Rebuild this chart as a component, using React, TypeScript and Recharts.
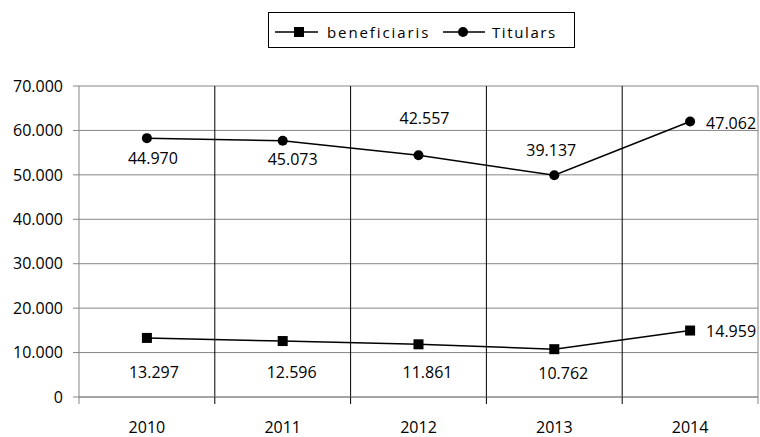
import React from 'react';
import { ComposedChart, Area, XAxis, YAxis, CartesianGrid, Legend, LabelList } from 'recharts';

const years = ['2010', '2011', '2012', '2013', '2014'];
const beneficiaris = [13297, 12596, 11861, 10762, 14959];
const titulars = [44970, 45073, 42557, 39137, 47062];
const yTicks = [0, 10000, 20000, 30000, 40000, 50000, 60000, 70000];

// label offsets relative to each point (style, not data)
const benefLabelOffsets: [number, number, string][] = [
  [7, 34, 'middle'], [9, 31, 'middle'], [9, 28, 'middle'], [9, 24, 'middle'], [16, 0, 'start'],
];
const titLabelOffsets: [number, number, string][] = [
  [6, 20, 'middle'], [10, 18, 'middle'], [6, -37, 'middle'], [-3, -25, 'middle'], [16, 2, 'start'],
];

const data = years.map((y, i) => ({ year: y, beneficiaris: beneficiaris[i], titulars: titulars[i] }));

const FONT = '"Open Sans", sans-serif';
const GRAY = '#868686';

const fmt = (v: number) => {
  if (v === 0) return '0';
  const th = Math.floor(v / 1000);
  const r = v % 1000;
  return th > 0 ? `${th}.${String(r).padStart(3, '0')}` : String(r);
};

const SquareDot = (p: any) => {
  if (p.cx == null || p.cy == null) return null;
  return <rect key={`s${p.index}`} x={p.cx - 5} y={p.cy - 5} width={10} height={10} fill="#000" />;
};
const CircleDot = (p: any) => {
  if (p.cx == null || p.cy == null) return null;
  return <circle key={`c${p.index}`} cx={p.cx} cy={p.cy} r={5} fill="#000" />;
};

const makeLabel = (values: number[], offs: [number, number, string][]) => (p: any) => {
  const i = p.index;
  const [dx, dy, anchor] = offs[i];
  return (
    <text
      key={`l${i}`}
      x={p.x + dx}
      y={p.y + dy}
      textAnchor={anchor as any}
      dominantBaseline="central"
      fontFamily={FONT}
      fontSize={16}
      fill="#000"
    >
      {fmt(values[i])}
    </text>
  );
};

const XTick = (p: any) => {
  const { x, y, payload, index, width, visibleTicksCount } = p;
  const half = width && visibleTicksCount ? width / (2 * visibleTicksCount) : 0;
  return (
    <g>
      {half > 0 && index === 0 && (
        <line x1={x - half} x2={x - half} y1={y} y2={y + 7} stroke={GRAY} />
      )}
      {half > 0 && (
        <line
          x1={x + half}
          x2={x + half}
          y1={y}
          y2={y + 7}
          stroke={index === visibleTicksCount - 1 ? GRAY : '#000'}
        />
      )}
      <text x={x} y={y + 36} textAnchor="middle" fontFamily={FONT} fontSize={16} fill="#000">
        {payload.value}
      </text>
    </g>
  );
};

const LegendBox = () => (
  <div style={{ width: 307, height: 36, border: '1px solid #000', boxSizing: 'border-box', background: '#fff' }}>
    <svg width={305} height={34} style={{ display: 'block' }}>
      <line x1={6} x2={49} y1={19} y2={19} stroke="#000" strokeWidth={1.5} />
      <rect x={25} y={14} width={10} height={10} fill="#000" />
      <text x={58} y={24.5} fontFamily={FONT} fontSize={15} letterSpacing={1.9} fill="#000">beneficiaris</text>
      <line x1={174} x2={216} y1={19} y2={19} stroke="#000" strokeWidth={1.5} />
      <circle cx={194} cy={19} r={5} fill="#000" />
      <text x={223} y={24.5} fontFamily={FONT} fontSize={15} letterSpacing={1.6} fill="#000">Titulars</text>
    </svg>
  </div>
);

export default function App() {
  return (
    <div style={{ position: 'absolute', left: 0, top: 0, width: 760, height: 437, background: '#fff' }}>
      <ComposedChart
        width={760}
        height={437}
        data={data}
        margin={{ top: 86, right: 2, bottom: 0, left: 8 }}
      >
        <CartesianGrid vertical={false} stroke={GRAY} strokeWidth={1} />
        <CartesianGrid
          horizontal={false}
          stroke="#000"
          verticalCoordinatesGenerator={({ offset }: any) =>
            [1, 2, 3, 4].map((i) => offset.left + (offset.width * i) / 5)
          }
        />
        <CartesianGrid
          horizontal={false}
          stroke={GRAY}
          verticalCoordinatesGenerator={({ offset }: any) => [offset.left + offset.width]}
        />
        <XAxis
          dataKey="year"
          scale="band"
          height={40}
          axisLine={{ stroke: GRAY }}
          tickLine={false}
          tickSize={0}
          tickMargin={0}
          interval={0}
          tick={<XTick />}
        />
        <YAxis
          width={71}
          domain={[0, 70000]}
          ticks={yTicks}
          interval={0}
          tickFormatter={fmt}
          axisLine={{ stroke: GRAY }}
          tickLine={{ stroke: GRAY }}
          tickSize={6}
          tickMargin={10}
          tick={{ fontFamily: FONT, fontSize: 16, fill: '#000' }}
        />
        <Legend
          verticalAlign="middle"
          layout="horizontal"
          wrapperStyle={{ top: 12, left: 268, width: 307, height: 36 }}
          content={() => <LegendBox />}
        />
        <Area
          type="linear"
          dataKey="beneficiaris"
          name="beneficiaris"
          stackId="s"
          stroke="#000"
          strokeWidth={1.5}
          fill="none"
          fillOpacity={0}
          dot={SquareDot}
          activeDot={false}
          isAnimationActive={false}
        >
          <LabelList content={makeLabel(beneficiaris, benefLabelOffsets)} />
        </Area>
        <Area
          type="linear"
          dataKey="titulars"
          name="Titulars"
          stackId="s"
          stroke="#000"
          strokeWidth={1.5}
          fill="none"
          fillOpacity={0}
          dot={CircleDot}
          activeDot={false}
          isAnimationActive={false}
        >
          <LabelList content={makeLabel(titulars, titLabelOffsets)} />
        </Area>
      </ComposedChart>
    </div>
  );
}
